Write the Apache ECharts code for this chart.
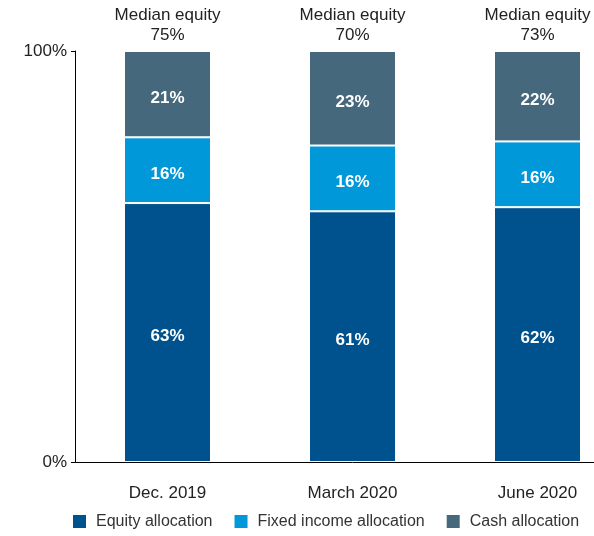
<!DOCTYPE html>
<html>
<head>
<meta charset="utf-8">
<script src="https://cdn.jsdelivr.net/npm/echarts@6/dist/echarts.min.js"></script>
<style>
  html, body { margin: 0; padding: 0; background: #fff; overflow: hidden; }
  /* container is a bit wider than the window: the last bar sits right at the edge */
  #box { width: 630px; height: 536px; }
</style>
</head>
<body>
<div id="box"></div>
<script>
// data
var categories = ['Dec. 2019', 'March 2020', 'June 2020'];
var equity = [63, 61, 62];
var fixedIncome = [16, 16, 16];
var cash = [21, 23, 22];
var medianEquity = [75, 70, 73];
var totals = [100, 100, 100];

var font = '"Liberation Sans", Arial, sans-serif';
var chart = echarts.init(document.getElementById('box'));

// white bold % label inside each segment
function inside() {
    return {
        show: true,
        position: 'inside',
        offset: [0, 4],
        color: '#fff',
        fontWeight: 'bold',
        fontSize: 17,
        fontFamily: font,
        formatter: '{c}%'
    };
}

var option = {
    animation: false,
    backgroundColor: '#fff',
    color: ['#00528f', '#0098d8', '#45687d'],
    grid: {
        left: 75,
        right: 0,
        top: 51,
        bottom: 74
    },
    legend: {
        data: ['Equity allocation', 'Fixed income allocation', 'Cash allocation'],
        left: 66,
        top: 508,
        icon: 'rect',
        itemWidth: 15,
        itemHeight: 15,
        itemGap: 20,
        textStyle: { fontSize: 16, color: '#333', fontFamily: font, padding: [0, 0, 0, 4] }
    },
    xAxis: {
        type: 'category',
        data: categories,
        axisLine: { lineStyle: { color: '#000', width: 1 } },
        axisTick: { show: false },
        axisLabel: { margin: 23, fontSize: 17, color: '#222', fontFamily: font }
    },
    yAxis: {
        type: 'value',
        min: 0,
        max: 100,
        interval: 100,
        splitLine: { show: false },
        axisLine: { show: true, lineStyle: { color: '#000', width: 1 } },
        axisTick: { show: true, length: 4, lineStyle: { color: '#000' } },
        axisLabel: { fontSize: 17, color: '#222', fontFamily: font, margin: 8, formatter: '{value}%' }
    },
    series: [
        {
            name: 'Equity allocation',
            type: 'bar',
            stack: 'all',
            barWidth: 87,
            data: equity,
            itemStyle: { borderColor: '#fff', borderWidth: 1 },
            label: inside()
        },
        {
            name: 'Fixed income allocation',
            type: 'bar',
            stack: 'all',
            data: fixedIncome,
            itemStyle: { borderColor: '#fff', borderWidth: 1 },
            label: inside()
        },
        {
            name: 'Cash allocation',
            type: 'bar',
            stack: 'all',
            data: cash,
            itemStyle: { borderColor: '#fff', borderWidth: 1 },
            label: inside()
        },
        {
            // invisible line at the top just to hang the "Median equity" labels
            name: 'median',
            type: 'line',
            data: totals,
            symbol: 'circle',
            symbolSize: 0,
            showSymbol: true,
            lineStyle: { opacity: 0 },
            silent: true,
            z: 10,
            label: {
                show: true,
                position: 'top',
                distance: 6,
                fontSize: 17,
                lineHeight: 20,
                color: '#222',
                fontFamily: font,
                formatter: function (p) {
                    return 'Median equity\n' + medianEquity[p.dataIndex] + '%';
                }
            }
        }
    ]
};
chart.setOption(option);
</script>
</body>
</html>
